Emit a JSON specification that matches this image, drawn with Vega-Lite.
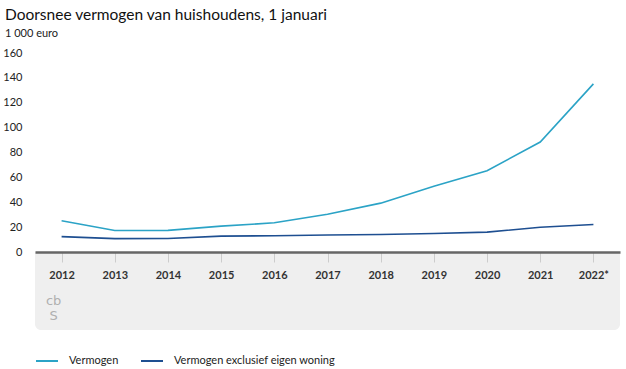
{
  "$schema": "https://vega.github.io/schema/vega-lite/v6.json",
  "width": 585,
  "height": 277,
  "autosize": {"type": "none"},
  "padding": {"left": 35, "top": 53, "right": 6, "bottom": 39},
  "background": "white",
  "title": {
    "text": "Doorsnee vermogen van huishoudens, 1 januari",
    "subtitle": "1 000 euro",
    "anchor": "start",
    "frame": "group",
    "dx": -30,
    "offset": 8,
    "font": "Lato",
    "fontSize": 15.5,
    "fontWeight": "normal",
    "color": "#111",
    "subtitleFont": "Lato",
    "subtitleFontSize": 11,
    "subtitleColor": "#222",
    "subtitlePadding": 5
  },
  "config": {
    "view": {"stroke": null},
    "font": "Lato",
    "axis": {"labelFont": "Lato", "labelColor": "#222", "labelFontSize": 11}
  },
  "data": {
    "values": [
      {"jaar": "2012", "reeks": "Vermogen", "waarde": 25.2},
      {"jaar": "2013", "reeks": "Vermogen", "waarde": 17.4},
      {"jaar": "2014", "reeks": "Vermogen", "waarde": 17.5},
      {"jaar": "2015", "reeks": "Vermogen", "waarde": 20.9},
      {"jaar": "2016", "reeks": "Vermogen", "waarde": 23.6},
      {"jaar": "2017", "reeks": "Vermogen", "waarde": 30.5},
      {"jaar": "2018", "reeks": "Vermogen", "waarde": 39.4},
      {"jaar": "2019", "reeks": "Vermogen", "waarde": 53.0},
      {"jaar": "2020", "reeks": "Vermogen", "waarde": 65.4},
      {"jaar": "2021", "reeks": "Vermogen", "waarde": 88.5},
      {"jaar": "2022*", "reeks": "Vermogen", "waarde": 135.2},
      {"jaar": "2012", "reeks": "Vermogen exclusief eigen woning", "waarde": 12.5},
      {"jaar": "2013", "reeks": "Vermogen exclusief eigen woning", "waarde": 10.9},
      {"jaar": "2014", "reeks": "Vermogen exclusief eigen woning", "waarde": 11.0},
      {"jaar": "2015", "reeks": "Vermogen exclusief eigen woning", "waarde": 12.9},
      {"jaar": "2016", "reeks": "Vermogen exclusief eigen woning", "waarde": 13.2},
      {"jaar": "2017", "reeks": "Vermogen exclusief eigen woning", "waarde": 13.8},
      {"jaar": "2018", "reeks": "Vermogen exclusief eigen woning", "waarde": 14.2},
      {"jaar": "2019", "reeks": "Vermogen exclusief eigen woning", "waarde": 15.0},
      {"jaar": "2020", "reeks": "Vermogen exclusief eigen woning", "waarde": 16.1},
      {"jaar": "2021", "reeks": "Vermogen exclusief eigen woning", "waarde": 20.0},
      {"jaar": "2022*", "reeks": "Vermogen exclusief eigen woning", "waarde": 22.2}
    ]
  },
  "encoding": {
    "x": {
      "field": "jaar",
      "type": "ordinal",
      "scale": {"type": "point", "padding": 0.5},
      "axis": {
        "title": null,
        "orient": "bottom",
        "offset": -78,
        "labelAngle": 0,
        "domainColor": "#666",
        "domainWidth": 2.5,
        "tickColor": "#ccc",
        "tickSize": 10,
        "labelPadding": 7,
        "labelFontWeight": "bold",
        "labelColor": "#333",
        "zindex": 2
      }
    },
    "y": {
      "type": "quantitative",
      "scale": {"domain": [-62.5, 160], "nice": false, "zero": false},
      "axis": {
        "title": null,
        "values": [0, 20, 40, 60, 80, 100, 120, 140, 160],
        "domain": false,
        "ticks": false,
        "labelPadding": 13,
        "gridColor": "#dedede",
        "gridWidth": 1
      }
    }
  },
  "layer": [
    {
      "data": {"values": [{"onderdeel": "band"}]},
      "mark": {"type": "rect", "color": "#efefef", "cornerRadiusBottomLeft": 6, "cornerRadiusBottomRight": 6},
      "encoding": {"x": null, "y": {"datum": -62.5}, "y2": {"datum": 0}}
    },
    {
      "data": {"values": [{"onderdeel": "logo"}]},
      "mark": {"type": "text", "text": ["cb", "S"], "color": "#b0b0b0", "fontSize": 13, "font": "DejaVu Sans", "dx": -8, "lineHeight": 15},
      "encoding": {"x": {"datum": "2012"}, "y": {"datum": -39.5}}
    },
    {
      "mark": {"type": "line", "strokeWidth": 1.6},
      "encoding": {
        "y": {"field": "waarde"},
        "color": {
          "field": "reeks",
          "type": "nominal",
          "scale": {"domain": ["Vermogen", "Vermogen exclusief eigen woning"], "range": ["#2ba3c6", "#1e4f91"]},
          "legend": {
            "title": null,
            "orient": "bottom",
            "direction": "horizontal",
            "symbolType": "stroke",
            "symbolSize": 484,
            "symbolStrokeWidth": 2,
            "labelFontSize": 11,
            "labelColor": "#222",
            "labelOffset": 10,
            "labelLimit": 300,
            "columnPadding": 18,
            "offset": 19
          }
        }
      }
    }
  ]
}
